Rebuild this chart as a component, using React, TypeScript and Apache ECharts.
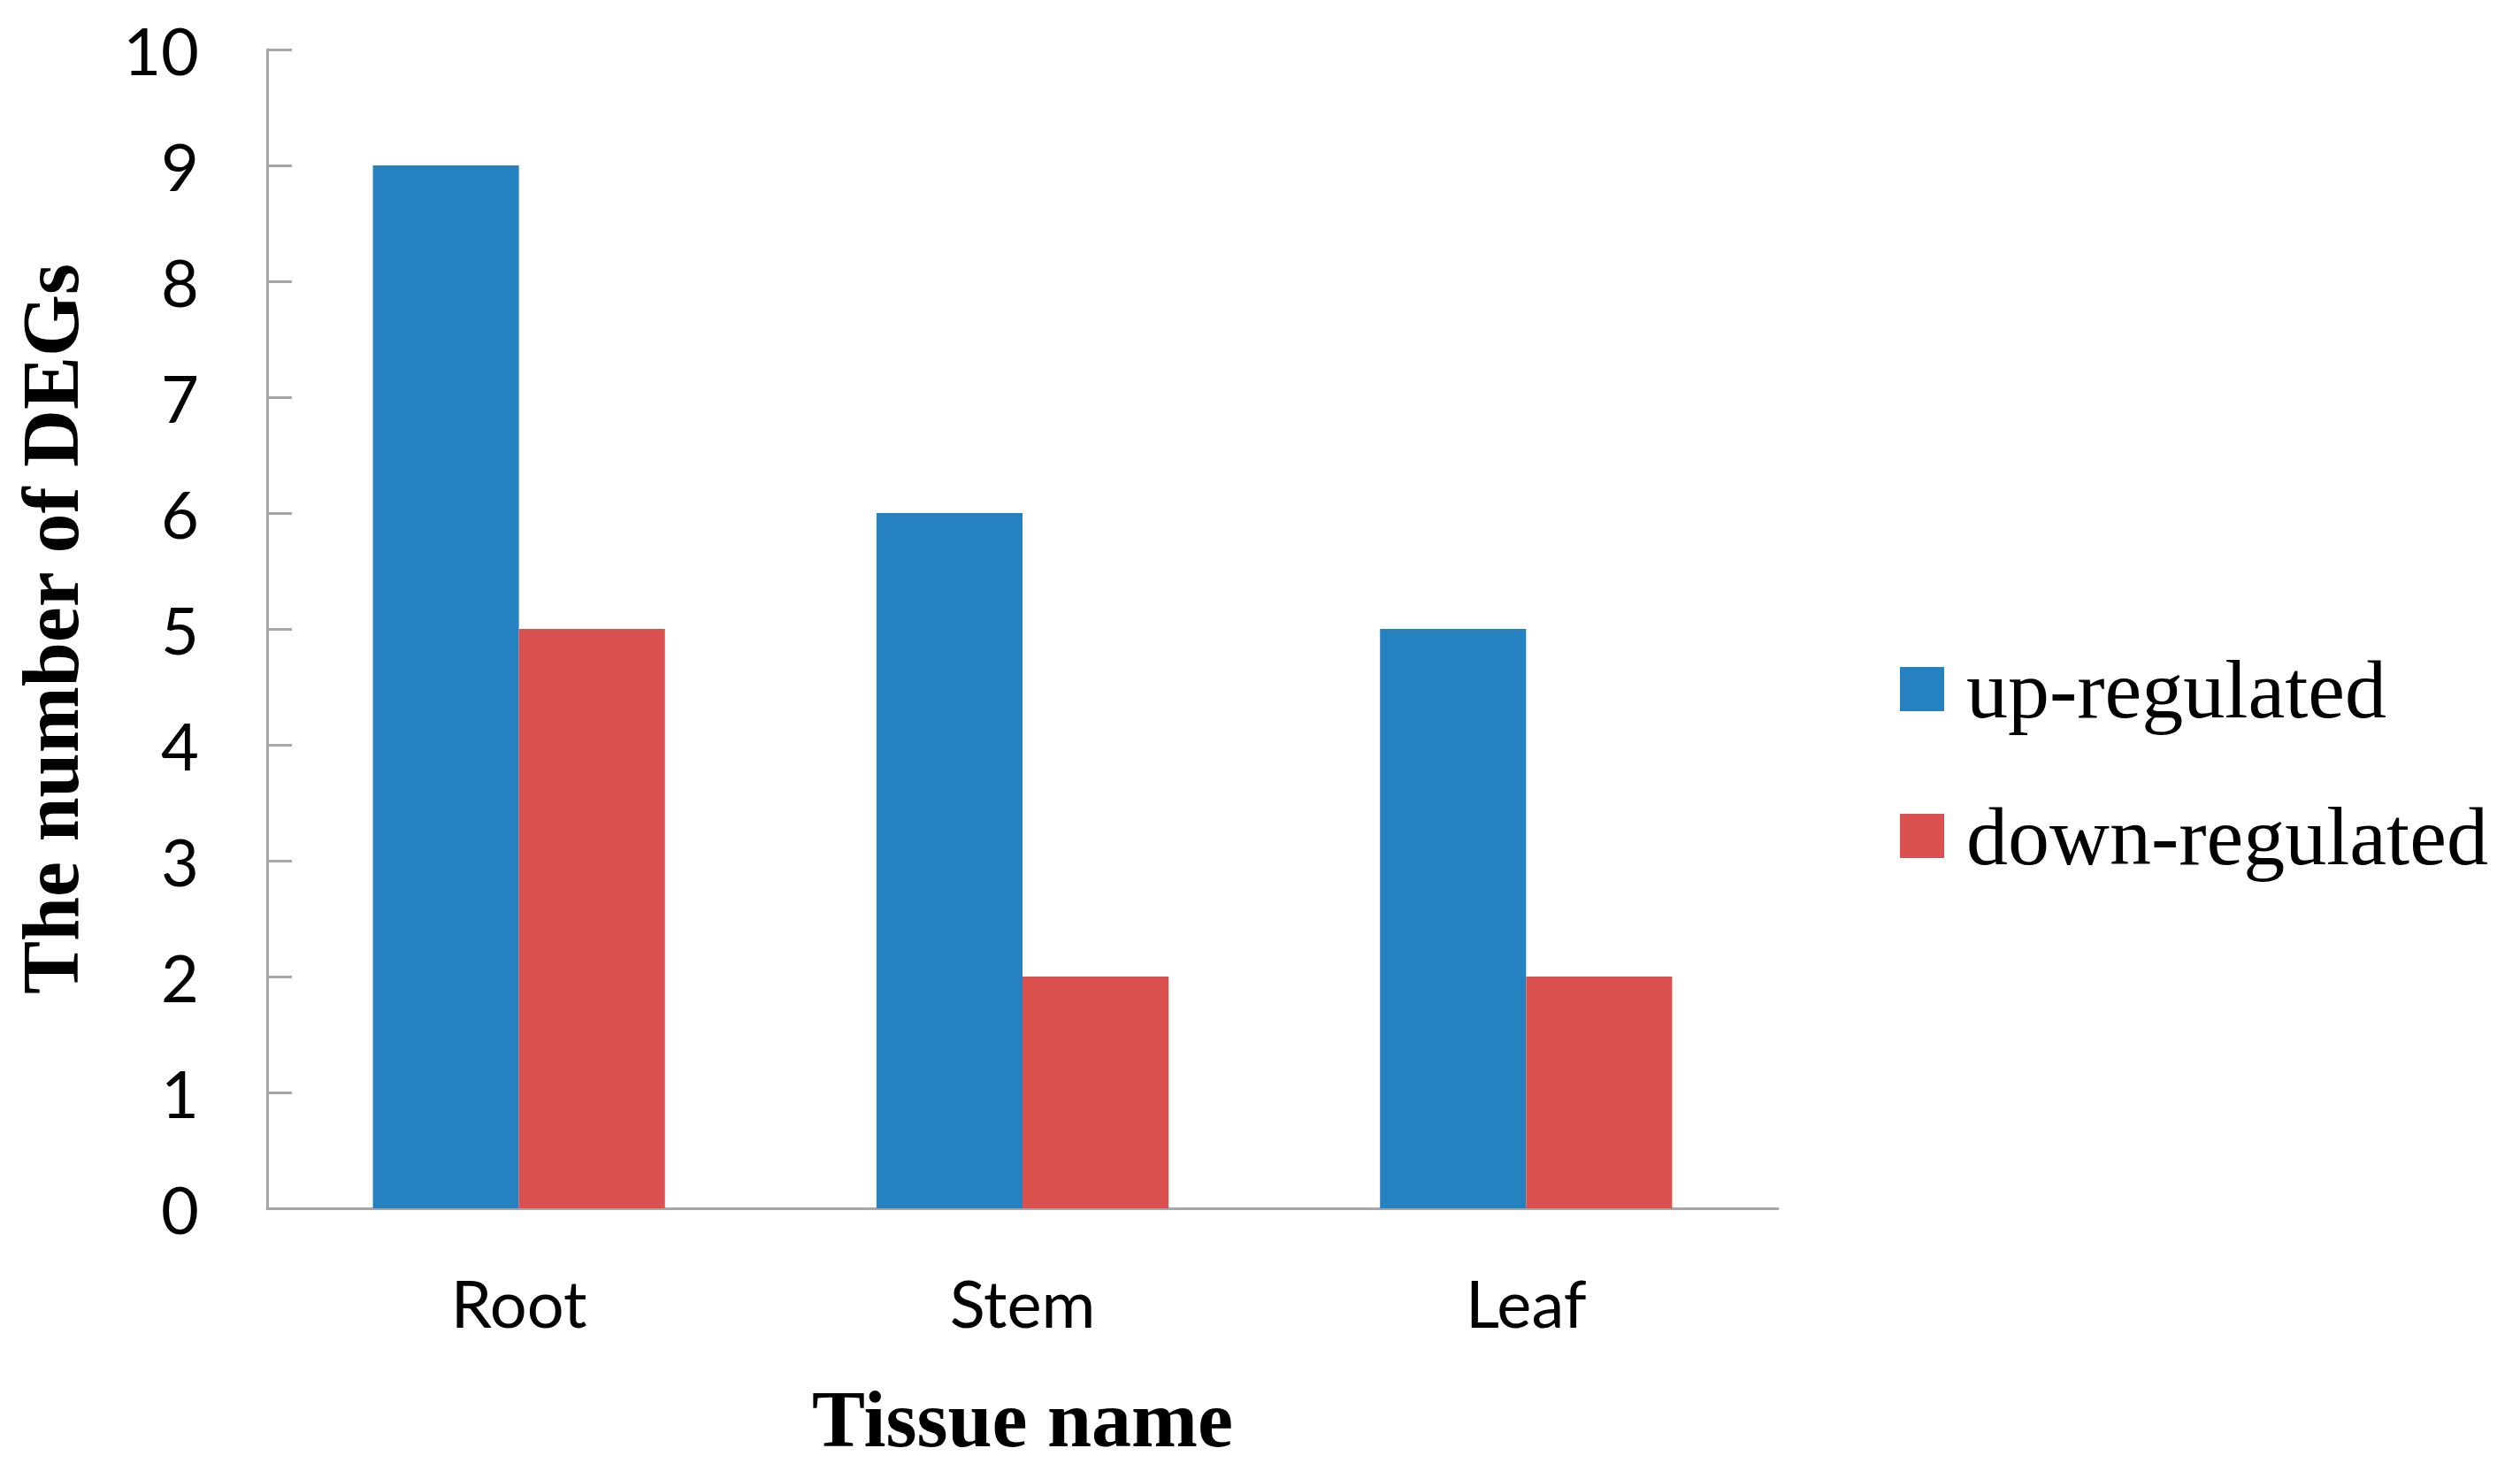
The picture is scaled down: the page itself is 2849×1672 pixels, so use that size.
import React, { useEffect, useRef } from "react";
import * as echarts from "echarts";

const categories = ["Root", "Stem", "Leaf"];
const upRegulated = [9, 6, 5];
const downRegulated = [5, 2, 2];
const seriesNames = ["up-regulated", "down-regulated"];
const yTicks = [0, 1, 2, 3, 4, 5, 6, 7, 8, 9, 10];

export default function App() {
  const ref = useRef<HTMLDivElement>(null);
  useEffect(() => {
    const chart = echarts.init(ref.current!, null, { renderer: "svg" });
    const axisColor = "#A6A6A6";
    chart.setOption({
      animation: false,
      backgroundColor: "#ffffff",
      grid: { left: 302, top: 56, width: 1708, height: 1310, containLabel: false },
      legend: {
        orient: "vertical",
        left: 2143,
        top: 727,
        itemWidth: 50,
        itemHeight: 50,
        itemGap: 72,
        icon: "rect",
        data: seriesNames,
        textStyle: {
          fontFamily: "Liberation Serif",
          fontSize: 94,
          color: "#000",
          padding: [0, 0, 0, 20],
        },
      },
      xAxis: {
        type: "category",
        data: categories,
        axisLine: { show: true, lineStyle: { color: axisColor, width: 3 } },
        axisTick: { show: false },
        axisLabel: { fontFamily: "Lato", fontSize: 74, color: "#000", margin: 69 },
        name: "Tissue name",
        nameLocation: "middle",
        nameGap: 193,
        nameTextStyle: { fontFamily: "Liberation Serif", fontWeight: "bold", fontSize: 90, color: "#000" },
      },
      yAxis: {
        type: "value",
        min: yTicks[0],
        max: yTicks[yTicks.length - 1],
        interval: 1,
        splitLine: { show: false },
        axisLine: { show: true, lineStyle: { color: axisColor, width: 3 } },
        axisTick: { show: true, inside: true, length: 28, lineStyle: { color: axisColor, width: 3 } },
        axisLabel: { fontFamily: "Lato", fontSize: 74, color: "#000", margin: 77 },
        name: "The number of DEGs",
        nameLocation: "middle",
        nameGap: 200,
        nameTextStyle: { fontFamily: "Liberation Serif", fontWeight: "bold", fontSize: 90, color: "#000" },
      },
      series: [
        {
          name: seriesNames[0],
          type: "bar",
          data: upRegulated,
          barGap: "0%",
          barCategoryGap: "42%",
          itemStyle: { color: "#2581BF" },
        },
        {
          name: seriesNames[1],
          type: "bar",
          data: downRegulated,
          itemStyle: { color: "#DB5150" },
        },
      ],
    });
    return () => chart.dispose();
  }, []);
  return (
    <div
      ref={ref}
      style={{ position: "fixed", left: 0, top: 0, width: 2849, height: 1672, background: "#fff" }}
    />
  );
}
